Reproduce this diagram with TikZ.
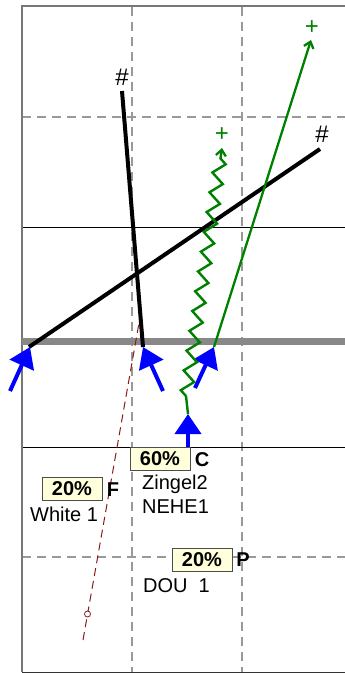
\documentclass[tikz,border=0pt]{standalone}
\usepackage{fontspec}
\setmainfont{Liberation Sans}
\usetikzlibrary{arrows.meta,decorations.pathmorphing}
\definecolor{gridgray}{HTML}{999999}
\definecolor{framegray}{HTML}{777777}
\definecolor{bargray}{HTML}{888888}
\definecolor{cream}{HTML}{FFFFDC}
\definecolor{leafgreen}{HTML}{008000}
\definecolor{redline}{HTML}{8B1A1A}
\begin{document}
\begin{tikzpicture}[x=1pt,y=-1pt,
  gridline/.style={draw=gridgray, line width=1.2pt, dash pattern=on 9pt off 6pt},
  solidline/.style={draw=black, line width=0.8pt},
  frameline/.style={draw=framegray, line width=1.6pt},
  bar/.style={draw=bargray, line width=7pt},
  blackline/.style={draw=black, line width=4pt},
  bluearrow/.style={draw=blue, line width=4pt, -{Triangle[length=20pt,width=26pt]}},
  greenarrow/.style={draw=leafgreen, line width=2.3pt, -{Straight Barb[length=6pt,width=10pt,line width=2.3pt]}},
  zigarrow/.style={draw=leafgreen, line width=2.4pt, -{Straight Barb[length=6pt,width=10pt,line width=2.3pt]},
     decorate, decoration={zigzag, segment length=20pt, amplitude=6pt, post length=7pt}},
  redline/.style={draw=redline, line width=1pt, dash pattern=on 8pt off 5pt},
  pctbox/.style={draw=black!70, fill=cream, line width=0.8pt, font=\fontsize{20}{22}\selectfont\bfseries,
     minimum width=60pt, minimum height=23pt, inner sep=0pt},
  bigletter/.style={font=\fontsize{20}{22}\selectfont\bfseries, inner sep=0pt},
  nametext/.style={font=\fontsize{20}{22}\selectfont, inner sep=0pt, anchor=base west},
  endmark/.style={font=\fontsize{24}{26}\selectfont, inner sep=0pt}
]
\useasboundingbox (0,0) rectangle (345,673);
% grid
\coordinate (gL1) at (22,117); \coordinate (gR1) at (345,117);
\coordinate (gL2) at (22,557); \coordinate (gR2) at (345,557);
\coordinate (gT1) at (132,7);  \coordinate (gB1) at (132,672);
\coordinate (gT2) at (242,7);  \coordinate (gB2) at (242,672);
\draw[gridline] (gL1) -- (gR1);
\draw[gridline] (gL2) -- (gR2);
\draw[gridline] (gT1) -- (gB1);
\draw[gridline] (gT2) -- (gB2);
\coordinate (sL1) at (22,227); \coordinate (sR1) at (345,227);
\coordinate (sL2) at (22,447); \coordinate (sR2) at (345,447);
\draw[solidline] (sL1) -- (sR1);
\draw[solidline] (sL2) -- (sR2);
% frame
\coordinate (fTR) at (345,6); \coordinate (fTL) at (22,6);
\coordinate (fBL) at (22,672); \coordinate (fBR) at (345,672);
\draw[frameline] (fTR) -- (fTL) -- (fBL);
\draw[draw=black!80, line width=1pt] (fBL) -- (fBR);
% thick gray bar
\coordinate (barL) at (22,341); \coordinate (barR) at (345,341);
\draw[bar] (barL) -- (barR);
% dashed red line
\coordinate (rA) at (83,640); \coordinate (rB) at (139,323);
\draw[redline] (rA) -- (rB);
\node[circle, draw=redline, fill=white, line width=0.8pt, minimum size=6pt, inner sep=0pt] (rC) at (87.5,614) {};
% black lines
\coordinate (b1s) at (143,347); \coordinate (b1e) at (122,91);
\coordinate (b2s) at (29,347);  \coordinate (b2e) at (320,149);
\draw[blackline] (b1s) -- (b1e);
\draw[blackline] (b2s) -- (b2e);
\node[endmark] (h1) at (122,77) {\#};
\node[endmark] (h2) at (322,134) {\#};
% blue arrows
\coordinate (a1t) at (10,391);  \coordinate (a1h) at (30,347);
\coordinate (a2t) at (163,391); \coordinate (a2h) at (143,347);
\coordinate (a3t) at (195,388); \coordinate (a3h) at (214,347);
\coordinate (a4t) at (188,448); \coordinate (a4h) at (188,414);
\draw[bluearrow] (a1t) -- (a1h);
\draw[bluearrow] (a2t) -- (a2h);
\draw[bluearrow] (a3t) -- (a3h);
\draw[bluearrow] (a4t) -- (a4h);
% green lines
\coordinate (g1e) at (311,40);
\draw[greenarrow] (a3h) -- (g1e);
\node[endmark, text=leafgreen] (p1) at (312,28) {+};
\coordinate (zk) at (186,396); \coordinate (z1e) at (222,148);
\draw[draw=leafgreen, line width=2.4pt] (a4h) -- (zk);
\draw[zigarrow] (zk) -- (z1e);
\node[endmark, text=leafgreen] (p2) at (222,135) {+};
% labels
\node[pctbox] (c60) at (160,459) {60\%};
\node[bigletter] (lC) at (202,460) {C};
\node[nametext] (zin) at (142,489) {Zingel2};
\node[nametext] (neh) at (142,513) {NEHE1};
\node[pctbox] (f20) at (72,489) {20\%};
\node[bigletter] (lF) at (113,490) {F};
\node[nametext] (whi) at (30,521) {White 1};
\node[pctbox] (p20) at (202,559.5) {20\%};
\node[bigletter] (lP) at (243,560) {P};
\node[nametext] (dou) at (143,592) {DOU\ \ 1};
\end{tikzpicture}
\end{document}
